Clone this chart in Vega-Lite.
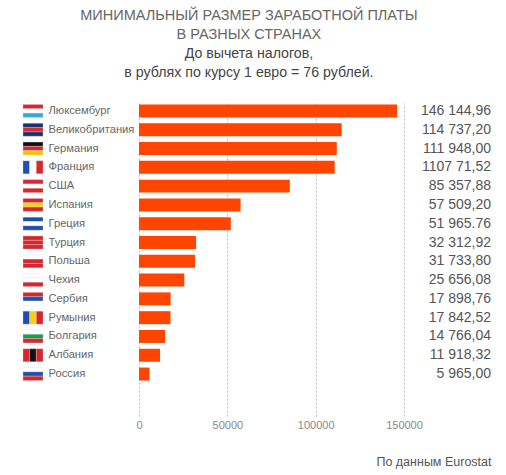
{
  "$schema": "https://vega.github.io/schema/vega-lite/v6.json",
  "padding": {"left": 22, "top": 8, "right": 10, "bottom": 5},
  "config": {
    "font": "Liberation Sans",
    "view": {"stroke": null}
  },
  "title": {
    "text": ["МИНИМАЛЬНЫЙ РАЗМЕР ЗАРАБОТНОЙ ПЛАТЫ", "В РАЗНЫХ СТРАНАХ"],
    "subtitle": ["До вычета налогов,", "в рублях по курсу 1 евро = 76 рублей."],
    "anchor": "middle",
    "fontSize": 14.5,
    "fontWeight": "normal",
    "color": "#666666",
    "lineHeight": 18.5,
    "subtitleFontSize": 14.2,
    "subtitleColor": "#444444",
    "subtitleLineHeight": 19,
    "subtitlePadding": 5,
    "offset": 21.5,
    "dx": -8
  },
  "data": {
    "values": [
      {"country": "Люксембург", "value": 146144.96, "label": "146 144,96", "flag": "h", "c1": "red", "c2": "white", "c3": "lightblue"},
      {"country": "Великобритания", "value": 114737.20, "label": "114 737,20", "flag": "h", "c1": "navy", "c2": "red", "c3": "navy"},
      {"country": "Германия", "value": 111948.00, "label": "111 948,00", "flag": "h", "c1": "black", "c2": "red", "c3": "gold"},
      {"country": "Франция", "value": 110771.52, "label": "1107 71,52", "flag": "v", "c1": "blue", "c2": "white", "c3": "red"},
      {"country": "США", "value": 85357.88, "label": "85 357,88", "flag": "h", "c1": "red", "c2": "white", "c3": "red"},
      {"country": "Испания", "value": 57509.20, "label": "57 509,20", "flag": "h", "c1": "red", "c2": "yellow", "c3": "red"},
      {"country": "Греция", "value": 51965.76, "label": "51 965.76", "flag": "h", "c1": "blue", "c2": "white", "c3": "blue"},
      {"country": "Турция", "value": 32312.92, "label": "32 312,92", "flag": "h", "c1": "red", "c2": "red", "c3": "red"},
      {"country": "Польша", "value": 31733.80, "label": "31 733,80", "flag": "h", "c1": "white", "c2": "red", "c3": "red"},
      {"country": "Чехия", "value": 25656.08, "label": "25 656,08", "flag": "h", "c1": "white", "c2": "white", "c3": "red"},
      {"country": "Сербия", "value": 17898.76, "label": "17 898,76", "flag": "h", "c1": "red", "c2": "blue", "c3": "white"},
      {"country": "Румыния", "value": 17842.52, "label": "17 842,52", "flag": "v", "c1": "blue", "c2": "yellow", "c3": "red"},
      {"country": "Болгария", "value": 14766.04, "label": "14 766,04", "flag": "h", "c1": "white", "c2": "green", "c3": "red"},
      {"country": "Албания", "value": 11918.32, "label": "11 918,32", "flag": "v", "c1": "red", "c2": "black", "c3": "red"},
      {"country": "Россия", "value": 5965.00, "label": "5 965,00", "flag": "h", "c1": "white", "c2": "blue", "c3": "red"}
    ]
  },
  "spacing": 4,
  "hconcat": [
    {
      "width": 20,
      "height": 313,
      "transform": [{"fold": ["c1", "c2", "c3"], "as": ["stripe", "colour"]}],
      "encoding": {
        "y": {
          "field": "country", "type": "nominal",
          "sort": ["Люксембург", "Великобритания", "Германия", "Франция", "США", "Испания", "Греция", "Турция", "Польша", "Чехия", "Сербия", "Румыния", "Болгария", "Албания", "Россия"],
          "scale": {"paddingInner": 0.31, "paddingOuter": 0.983, "align": 0.04},
          "axis": null
        },
        "color": {
          "field": "colour", "type": "nominal", "legend": null,
          "scale": {
            "domain": ["red", "white", "lightblue", "navy", "black", "gold", "blue", "yellow", "green"],
            "range": ["#d8262e", "#ffffff", "#33a8e0", "#1f2f6e", "#111111", "#f5c400", "#1e4fb0", "#f7d117", "#1a9a55"]
          }
        }
      },
      "layer": [
        {
          "transform": [{"filter": "datum.flag === 'h'"}],
          "mark": {"type": "rect", "stroke": "#dddddd", "strokeWidth": 0.3},
          "encoding": {
            "x": {"value": 0},
            "x2": {"value": "width"},
            "yOffset": {"field": "stripe", "type": "nominal", "scale": {"paddingInner": 0, "paddingOuter": 0}}
          }
        },
        {
          "transform": [{"filter": "datum.flag === 'v'"}],
          "mark": {"type": "rect", "stroke": "#dddddd", "strokeWidth": 0.3},
          "encoding": {
            "x": {"field": "stripe", "type": "nominal", "scale": {"paddingInner": 0, "paddingOuter": 0}, "axis": null}
          }
        }
      ]
    },
    {
      "width": 265,
      "height": 313,
      "encoding": {
        "y": {
          "field": "country", "type": "nominal",
          "sort": ["Люксембург", "Великобритания", "Германия", "Франция", "США", "Испания", "Греция", "Турция", "Польша", "Чехия", "Сербия", "Румыния", "Болгария", "Албания", "Россия"],
          "scale": {"paddingInner": 0.31, "paddingOuter": 0.983, "align": 0.04},
          "axis": {
            "title": null, "domain": false, "ticks": false,
            "labelAlign": "left", "labelPadding": 91,
            "labelFontSize": 11.2, "labelColor": "#666666"
          }
        }
      },
      "layer": [
        {
          "mark": {"type": "bar", "color": "#ff4500"},
          "encoding": {
            "x": {
              "field": "value", "type": "quantitative",
              "scale": {"domain": [0, 150000], "nice": false},
              "axis": {
                "values": [0, 50000, 100000, 150000],
                "format": "d",
                "labelFlush": false,
                "grid": true, "gridDash": [2, 2], "gridColor": "#bbbbbb",
                "domain": false, "ticks": false,
                "labelColor": "#888888", "labelFontSize": 11, "labelPadding": 3,
                "title": "По данным Eurostat",
                "titleFontSize": 12.5, "titleFontWeight": "normal", "titleColor": "#555555",
                "titleAnchor": "start", "titleAlign": "right", "titleBaseline": "middle",
                "titleX": 352, "titleY": 45
              }
            }
          }
        },
        {
          "mark": {"type": "text", "align": "right", "baseline": "middle", "fontSize": 14, "color": "#555555", "dx": 87},
          "encoding": {
            "x": {"value": "width"},
            "text": {"field": "label", "type": "nominal"}
          }
        }
      ]
    }
  ]
}
